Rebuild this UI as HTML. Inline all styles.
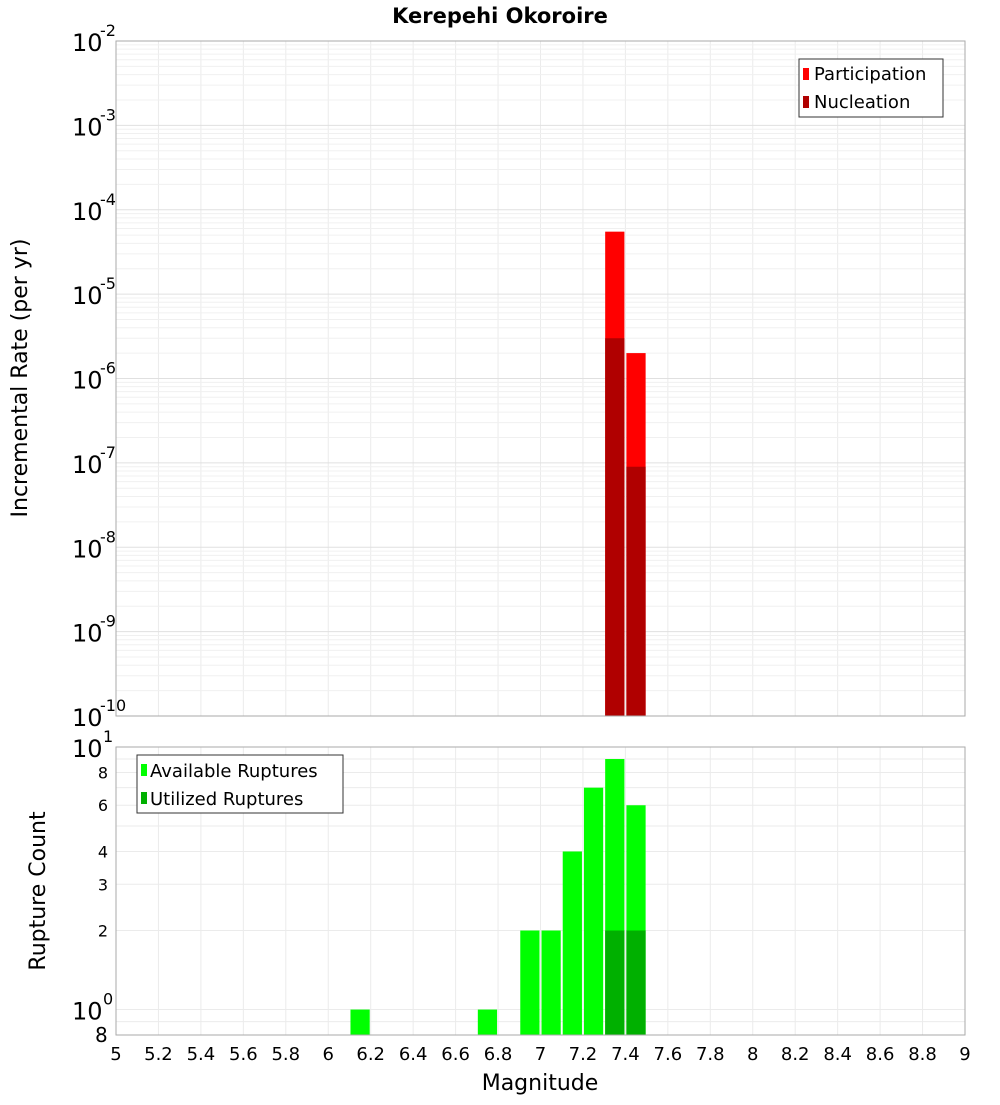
<!DOCTYPE html>
<html><head><meta charset="utf-8"><style>
body{margin:0;background:#fff;}
svg text{font-family:"DejaVu Sans","Liberation Sans",sans-serif;}
</style></head><body>
<svg id="c" width="1000" height="1100" xmlns="http://www.w3.org/2000/svg">
<text x="500" y="23" text-anchor="middle" font-size="21" font-weight="bold">Kerepehi Okoroire</text>
<g id="grid"></g><g id="bars"></g>
<rect x="116" y="41" width="849" height="675" fill="none" stroke="#aaa"/>
<rect x="116" y="747" width="849" height="288" fill="none" stroke="#aaa"/>
<g id="ticks"></g>
<text transform="translate(27,378) rotate(-90)" text-anchor="middle" font-size="22">Incremental Rate (per yr)</text>
<text transform="translate(45,891) rotate(-90)" text-anchor="middle" font-size="22">Rupture Count</text>
<text x="540" y="1090" text-anchor="middle" font-size="22">Magnitude</text>
<g>
<rect x="799" y="59" width="144" height="58" fill="#fff" stroke="#333"/>
<rect x="803" y="68" width="6" height="12" fill="#ff0000"/>
<text x="814" y="80" font-size="18">Participation</text>
<rect x="803" y="96" width="6" height="12" fill="#b00000"/>
<text x="814" y="108" font-size="18">Nucleation</text>
</g>
<g>
<rect x="137" y="755" width="206" height="58" fill="#fff" stroke="#333"/>
<rect x="141" y="764" width="6" height="12" fill="#00ff00"/>
<text x="150" y="777" font-size="18">Available Ruptures</text>
<rect x="141" y="792" width="6" height="12" fill="#00b000"/>
<text x="150" y="805" font-size="18">Utilized Ruptures</text>
</g>
</svg>
<script>
const mags=[6.15,6.75,6.95,7.05,7.15,7.25,7.35,7.45];
const available=[1,1,2,2,4,7,9,6];
const utilized=[0,0,0,0,0,0,2,2];
const rateMags=[7.35,7.45];
const participation=[5.5e-5,2e-6];
const nucleation=[3e-6,9e-8];
const xTicks=[5,5.2,5.4,5.6,5.8,6,6.2,6.4,6.6,6.8,7,7.2,7.4,7.6,7.8,8,8.2,8.4,8.6,8.8,9];
const topExps=[-10,-9,-8,-7,-6,-5,-4,-3,-2];
const botTicks=[2,3,4,6,8];
const NS='http://www.w3.org/2000/svg';
const X=m=>116+(m-5)/4*849;
const YT=v=>716-(Math.log10(v)+10)/8*675;
const YB=v=>747+(1-Math.log10(v))/(1-Math.log10(0.8))*288;
function mk(p,t,a){const e=document.createElementNS(NS,t);for(const k in a)e.setAttribute(k,a[k]);document.getElementById(p).appendChild(e);return e;}
// grid
xTicks.forEach(m=>{
 let l=mk('grid','line',{x1:X(m),x2:X(m),y1:41,y2:716,stroke:'#ebebeb'});
 
 let l2=mk('grid','line',{x1:X(m),x2:X(m),y1:747,y2:1035,stroke:'#ebebeb'});
 
});
topExps.forEach(e=>{for(let k=1;k<10;k++){const y=YT(k*Math.pow(10,e));if(y<41)continue;
 let l=mk('grid','line',{x1:116,x2:965,y1:y,y2:y,stroke:k==1?'#e0e0e0':'#f0f0f0'});
 }});
[0.8,0.9,1,2,3,4,5,6,7,8,9].forEach(v=>{const y=YB(v);
 let l=mk('grid','line',{x1:116,x2:965,y1:y,y2:y,stroke:'#ebebeb'});
 });
// bars
const w=849/40;
rateMags.forEach((m,i)=>{
 let b=mk('bars','rect',{x:X(m)-w/2+1,width:w-2,y:YT(participation[i]),height:716-YT(participation[i]),fill:'#ff0000'});
 
 let n=mk('bars','rect',{x:X(m)-w/2+1,width:w-2,y:YT(nucleation[i]),height:716-YT(nucleation[i]),fill:'#b00000'});
 
});
mags.forEach((m,i)=>{
 let b=mk('bars','rect',{x:X(m)-w/2+1,width:w-2,y:YB(available[i]),height:1035-YB(available[i]),fill:'#00ff00'});
 
 if(utilized[i]>0){let u=mk('bars','rect',{x:X(m)-w/2+1,width:w-2,y:YB(utilized[i]),height:1035-YB(utilized[i]),fill:'#00b000'});
 }
});
// ticks
xTicks.forEach(m=>{let t=mk('ticks','text',{x:X(m),y:1060,'text-anchor':'middle','font-size':18});t.textContent=String(m);
 });
topExps.forEach(e=>{const y=YT(Math.pow(10,e));
 let t=mk('ticks','text',{x:72,y:y+10,'font-size':24});t.textContent='10';
 
 let s=mk('ticks','text',{x:100,y:y-5,'font-size':16});s.textContent=String(e);
 });
[[1,'0'],[10,'1']].forEach(([v,e])=>{const y=YB(v);
 let t=mk('ticks','text',{x:72,y:y+10,'font-size':24});t.textContent='10';
 
 let s=mk('ticks','text',{x:103,y:y-5,'font-size':16});s.textContent=e;
 });
botTicks.forEach(v=>{let t=mk('ticks','text',{x:108,y:YB(v)+6,'text-anchor':'end','font-size':16});t.textContent=String(v);
 });
let t8=mk('ticks','text',{x:95,y:1042,'font-size':20});t8.textContent='8';

</script>
</body></html>
